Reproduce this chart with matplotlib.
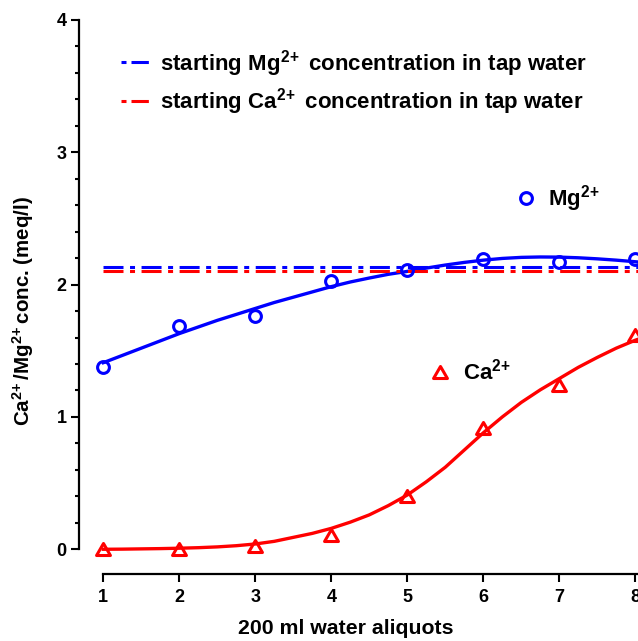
import numpy as np
import matplotlib
matplotlib.use('Agg')
import matplotlib.pyplot as plt
from matplotlib.lines import Line2D
from matplotlib.path import Path

plt.rcParams['font.family'] = ['Liberation Sans', 'DejaVu Sans']
plt.rcParams['font.weight'] = 'bold'
plt.rcParams['mathtext.fontset'] = 'custom'
plt.rcParams['mathtext.default'] = 'bf'
plt.rcParams['mathtext.bf'] = 'Liberation Sans:bold'
plt.rcParams['mathtext.rm'] = 'Liberation Sans:bold'
plt.rcParams['lines.scale_dashes'] = False

# measured points
aliquots = [1, 2, 3, 4, 5, 6, 7, 8]
mg_conc = [1.38, 1.69, 1.76, 2.03, 2.11, 2.19, 2.17, 2.19]
ca_conc = [0.0, 0.005, 0.025, 0.108, 0.40, 0.915, 1.24, 1.62]

# fitted curves, every 0.25 aliquot
fit_x = [1.0, 1.25, 1.5, 1.75, 2.0, 2.25, 2.5, 2.75, 3.0, 3.25, 3.5, 3.75, 4.0, 4.25,
         4.5, 4.75, 5.0, 5.25, 5.5, 5.75, 6.0, 6.25, 6.5, 6.75, 7.0, 7.25, 7.5, 7.75,
         8.0, 8.25]
mg_fit = [1.41, 1.465, 1.52, 1.575, 1.63, 1.68, 1.73, 1.775, 1.82, 1.865, 1.905, 1.945,
          1.985, 2.02, 2.05, 2.078, 2.10, 2.125, 2.148, 2.168, 2.185, 2.198, 2.206, 2.209,
          2.208, 2.203, 2.195, 2.185, 2.173, 2.16]
ca_fit = [0.0, 0.001, 0.003, 0.005, 0.008, 0.012, 0.018, 0.027, 0.04, 0.06, 0.09, 0.12,
          0.158, 0.205, 0.26, 0.33, 0.41, 0.51, 0.62, 0.75, 0.88, 1.00, 1.11, 1.205,
          1.29, 1.375, 1.45, 1.52, 1.58, 1.63]

# starting tap water concentrations
mg_start = 2.135
ca_start = 2.10

BLUE = '#0000ff'
RED = '#ff0000'
DASHDOT = (14.4, 4.7, 3.6, 4.7)
TRI = Path([(-1, -0.866), (1, -0.866), (0, 0.866), (-1, -0.866)],
           [Path.MOVETO, Path.LINETO, Path.LINETO, Path.CLOSEPOLY])
SUP = r'$^{2\!+}$'

fig = plt.figure(figsize=(6.38, 6.41), dpi=100)
ax = fig.add_axes([0.1238, 0.1045, 0.8898, 0.8643])
ax.set_xlim(0.68, 8.15)
ax.set_ylim(-0.187, 4.0)

ax.plot(fit_x, mg_fit, color=BLUE, lw=2.4)
ax.plot(fit_x, ca_fit, color=RED, lw=2.4)
ax.plot([1, 8.2], [mg_start, mg_start], color=BLUE, lw=2.2, dashes=DASHDOT)
ax.plot([1, 8.2], [ca_start, ca_start], color=RED, lw=2.2, dashes=DASHDOT)

ax.plot(aliquots, mg_conc, ls='none', marker='o', ms=8.5, mfc='none',
        mec=BLUE, mew=2.2, clip_on=False)
ax.plot(aliquots, ca_conc, ls='none', marker=TRI, ms=10, mfc='none',
        mec=RED, mew=2.2, clip_on=False)

for side in ['top', 'right']:
    ax.spines[side].set_visible(False)
ax.spines['left'].set_bounds(0, 4)
ax.spines['bottom'].set_bounds(1, 8.15)
for side in ['left', 'bottom']:
    ax.spines[side].set_linewidth(1.6)

ax.set_xticks(aliquots)
ax.set_yticks([0, 1, 2, 3, 4])
ax.set_yticks(np.arange(0, 4, 0.2), minor=True)
ax.tick_params(which='major', length=5.5, width=1.5, labelsize=13, pad=3.4)
ax.tick_params(axis='x', which='major', pad=5)
ax.tick_params(which='minor', length=3.1, width=1.5)
for lab in ax.get_xticklabels() + ax.get_yticklabels():
    lab.set_fontweight('bold')

ax.set_xlabel('200 ml water aliquots', fontsize=15.3, fontweight='bold')
ax.xaxis.set_label_coords(0.47, -0.081)
ax.set_ylabel('Ca' + SUP + '/Mg' + SUP + 'conc. (meq/l)', fontsize=14.8, fontweight='bold')
ax.yaxis.set_label_coords(-0.076, 0.474)

# line legend at top
h_mg = Line2D([], [], color=BLUE, lw=2.2, dashes=(3.6, 3.6, 12.5, 3.6))
h_ca = Line2D([], [], color=RED, lw=2.2, dashes=(3.6, 3.6, 12.5, 3.6))
leg1 = ax.legend([h_mg, h_ca],
                 ['starting Mg' + SUP + ' concentration in tap water',
                  'starting Ca' + SUP + ' concentration in tap water'],
                 loc='upper left', bbox_to_anchor=(0.074, 0.95), frameon=False,
                 fontsize=16, handlelength=1.3, handletextpad=0.45,
                 borderpad=0, borderaxespad=0, labelspacing=0.35)
ax.add_artist(leg1)

# marker legends
leg2 = ax.legend([Line2D([], [], ls='none', marker='o', ms=8.5, mfc='none', mec=BLUE, mew=2.2)],
                 ['Mg' + SUP], loc='center left', bbox_to_anchor=(0.771, 0.677),
                 frameon=False, fontsize=16, handlelength=0.85, handletextpad=0.57,
                 borderpad=0, borderaxespad=0)
ax.add_artist(leg2)
leg3 = ax.legend([Line2D([], [], ls='none', marker=TRI, ms=10, mfc='none', mec=RED, mew=2.2)],
                 ['Ca' + SUP], loc='center left', bbox_to_anchor=(0.619, 0.365),
                 frameon=False, fontsize=16, handlelength=0.85, handletextpad=0.61,
                 borderpad=0, borderaxespad=0)

fig.savefig('out.png', dpi=100)
